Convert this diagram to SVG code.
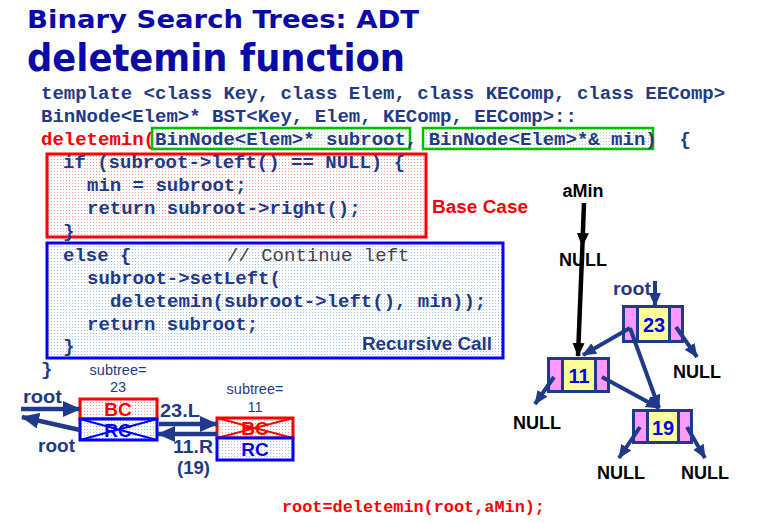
<svg xmlns="http://www.w3.org/2000/svg" width="770" height="524" viewBox="0 0 770 524">
  <style>
    .title { font-family: "DejaVu Sans", Verdana, sans-serif; font-weight: bold; fill: #0a0aa8; }
    .code { font-family: "Liberation Mono", "Courier New", monospace; font-weight: bold; font-size: 19px; fill: #1f3a8a; }
    .cmt { font-weight: normal; fill: #444; }
    .red { fill: #ff0000; }
    .lbl { font-family: "Liberation Sans", Arial, sans-serif; font-weight: bold; }
    .small { font-family: "Liberation Sans", Arial, sans-serif; font-size: 14.5px; fill: #1f3a8a; text-anchor: middle; }
    .null { font-family: "Liberation Sans", Arial, sans-serif; font-weight: bold; font-size: 18px; fill: #000; text-anchor: middle; }
    .num { font-family: "Liberation Sans", Arial, sans-serif; font-weight: bold; font-size: 20px; fill: #0000ff; text-anchor: middle; }
    .cell { font-family: "Liberation Sans", Arial, sans-serif; font-weight: bold; font-size: 19px; text-anchor: middle; }
    .frame { fill: #1f3a8a; }
    .pink { fill: #ff99ff; }
    .yellow { fill: #ffff99; }
    .edge { stroke: #1f3a8a; stroke-width: 4; fill: none; marker-end: url(#ahNavy); }
    .bigedge { stroke: #1f3a8a; stroke-width: 4.5; fill: none; marker-end: url(#ahBig); }
  </style>
  <defs>
    <pattern id="dotRed" width="3" height="3" patternUnits="userSpaceOnUse">
      <rect width="3" height="3" fill="#ffffff"/>
      <rect width="1" height="1" fill="#f59a9a"/>
    </pattern>
    <pattern id="dotBlue" width="3" height="3" patternUnits="userSpaceOnUse">
      <rect width="3" height="3" fill="#ffffff"/>
      <rect width="1" height="1" fill="#9ec0ee"/>
    </pattern>
    <pattern id="dotGreen" width="3" height="3" patternUnits="userSpaceOnUse">
      <rect width="3" height="3" fill="#ffffff"/>
      <rect width="1" height="1" fill="#a8dca8"/>
    </pattern>
    <marker id="ahNavy" markerUnits="userSpaceOnUse" markerWidth="14" markerHeight="14" viewBox="0 0 14 14" refX="13" refY="7" orient="auto">
      <path d="M0,1 L14,7 L0,13 z" fill="#1f3a8a"/>
    </marker>
    <marker id="ahBig" markerUnits="userSpaceOnUse" markerWidth="18" markerHeight="16" viewBox="0 0 18 16" refX="17" refY="8" orient="auto">
      <path d="M0,0 L18,8 L0,16 z" fill="#1f3a8a"/>
    </marker>
    <marker id="ahBlack" markerUnits="userSpaceOnUse" markerWidth="14" markerHeight="14" viewBox="0 0 14 14" refX="13" refY="7" orient="auto">
      <path d="M0,1 L14,7 L0,13 z" fill="#000"/>
    </marker>
  </defs>

  <rect width="770" height="524" fill="#ffffff"/>

  <!-- heading -->
  <text class="title" x="27" y="28" font-size="25" textLength="392" lengthAdjust="spacingAndGlyphs">Binary Search Trees: ADT</text>
  <text class="title" x="27" y="71" font-size="37" textLength="378" lengthAdjust="spacingAndGlyphs">deletemin function</text>

  <!-- code boxes -->
  <g id="param-boxes">
    <rect x="152" y="128" width="258" height="21" fill="url(#dotGreen)" stroke="#00c000" stroke-width="2.5"/>
    <rect x="423" y="128" width="230" height="21" fill="url(#dotGreen)" stroke="#00c000" stroke-width="2.5"/>
  </g>
  <g id="base-case">
    <rect x="47" y="154" width="379" height="83" fill="url(#dotRed)" stroke="#ff0000" stroke-width="3"/>
    <text class="lbl red" x="432" y="213" font-size="18" textLength="96" lengthAdjust="spacingAndGlyphs">Base Case</text>
  </g>
  <g id="recursive-call">
    <rect x="47" y="243" width="456" height="115" fill="url(#dotBlue)" stroke="#0000ff" stroke-width="3"/>
    <text class="lbl" x="362" y="350" font-size="18" fill="#1f3a8a" textLength="130" lengthAdjust="spacingAndGlyphs">Recursive Call</text>
  </g>

  <!-- code listing -->
  <g id="code">
    <text class="code" x="41" y="99">template &lt;class Key, class Elem, class KEComp, class EEComp&gt;</text>
    <text class="code" x="41" y="122">BinNode&lt;Elem&gt;* BST&lt;Key, Elem, KEComp, EEComp&gt;::</text>
    <text class="code" x="41" y="145" xml:space="preserve"><tspan class="red">deletemin(</tspan>BinNode&lt;Elem&gt;* subroot, BinNode&lt;Elem&gt;*&amp; min)  {</text>
    <text class="code" x="63" y="168">if (subroot-&gt;left() == NULL) {</text>
    <text class="code" x="87" y="191">min = subroot;</text>
    <text class="code" x="87" y="214">return subroot-&gt;right();</text>
    <text class="code" x="63" y="237">}</text>
    <text class="code" x="63" y="261">else {<tspan class="cmt" x="227">// Continue left</tspan></text>
    <text class="code" x="87" y="284">subroot-&gt;setLeft(</text>
    <text class="code" x="110" y="307">deletemin(subroot-&gt;left(), min));</text>
    <text class="code" x="87" y="330">return subroot;</text>
    <text class="code" x="63" y="352">}</text>
    <text class="code" x="41" y="375">}</text>
  </g>

  <!-- call trace boxes -->
  <g id="frame-23">
    <text class="small" x="118" y="375">subtree=</text>
    <text class="small" x="118" y="392">23</text>
    <rect x="80" y="399" width="77" height="20" fill="url(#dotRed)" stroke="#ff0000" stroke-width="3"/>
    <text class="cell" x="118" y="416" fill="#ff0000">BC</text>
    <rect x="80" y="419" width="77" height="21" fill="url(#dotBlue)" stroke="#0000ff" stroke-width="3"/>
    <text class="cell" x="118" y="437" fill="#0000ff">RC</text>
    <path d="M80,419 L157,440 M80,440 L157,419" stroke="#0000ff" stroke-width="2"/>
  </g>
  <g id="frame-11">
    <text class="small" x="255" y="394">subtree=</text>
    <text class="small" x="255" y="412">11</text>
    <rect x="217" y="418" width="76" height="20" fill="url(#dotRed)" stroke="#ff0000" stroke-width="3"/>
    <text class="cell" x="255" y="435" fill="#ff0000">BC</text>
    <path d="M217,418 L293,438 M217,438 L293,418" stroke="#ff0000" stroke-width="2"/>
    <rect x="217" y="438" width="76" height="22" fill="url(#dotBlue)" stroke="#0000ff" stroke-width="3"/>
    <text class="cell" x="255" y="456" fill="#0000ff">RC</text>
  </g>

  <!-- tree nodes -->
  <g id="node-23" transform="translate(622,305)">
    <rect class="frame" width="62" height="38"/>
    <rect class="pink" x="3" y="3" width="11" height="32"/>
    <rect class="yellow" x="17" y="3" width="29" height="32"/>
    <rect class="pink" x="49" y="3" width="10" height="32"/>
    <text class="num" x="32" y="27">23</text>
  </g>
  <g id="node-11" transform="translate(547,357)">
    <rect class="frame" width="63" height="36"/>
    <rect class="pink" x="3" y="3" width="11" height="30"/>
    <rect class="yellow" x="17" y="3" width="30" height="30"/>
    <rect class="pink" x="50" y="3" width="10" height="30"/>
    <text class="num" x="32" y="26">11</text>
  </g>
  <g id="node-19" transform="translate(632,409)">
    <rect class="frame" width="61" height="35"/>
    <rect class="pink" x="3" y="3" width="11" height="29"/>
    <rect class="yellow" x="17" y="3" width="28" height="29"/>
    <rect class="pink" x="48" y="3" width="10" height="29"/>
    <text class="num" x="31" y="26">19</text>
  </g>

  <!-- tree labels -->
  <g id="tree-labels">
    <text class="null" x="583" y="197">aMin</text>
    <text class="null" x="583" y="266">NULL</text>
    <text class="lbl" x="613" y="295" font-size="18" fill="#1f3a8a" textLength="38" lengthAdjust="spacingAndGlyphs">root</text>
    <text class="null" x="697" y="378">NULL</text>
    <text class="null" x="537" y="429">NULL</text>
    <text class="null" x="621" y="479">NULL</text>
    <text class="null" x="705" y="479">NULL</text>
  </g>

  <!-- trace labels -->
  <g id="trace-labels" class="lbl" fill="#1f3a8a" font-size="18">
    <text x="23" y="403" textLength="39" lengthAdjust="spacingAndGlyphs">root</text>
    <text x="38" y="452" textLength="37" lengthAdjust="spacingAndGlyphs">root</text>
    <text x="160" y="417" textLength="40" lengthAdjust="spacingAndGlyphs">23.L</text>
    <text x="173" y="453" textLength="40" lengthAdjust="spacingAndGlyphs">11.R</text>
    <text x="177" y="474" textLength="33" lengthAdjust="spacingAndGlyphs">(19)</text>
  </g>

  <!-- connectors -->
  <g id="connectors">
    <polyline points="584,203 582.4,246 578,356" stroke="#000" stroke-width="4.5" fill="none" marker-mid="url(#ahBlack)" marker-end="url(#ahBlack)"/>
    <line class="edge" x1="655" y1="281" x2="655" y2="306"/>
    <line class="edge" x1="630" y1="328" x2="583" y2="355"/>
    <line class="edge" x1="630" y1="328" x2="659" y2="408"/>
    <line class="edge" x1="676" y1="327" x2="697" y2="357"/>
    <line class="edge" x1="554" y1="377" x2="535" y2="404"/>
    <line class="edge" x1="602" y1="377" x2="659" y2="408"/>
    <line class="edge" x1="640" y1="427" x2="619" y2="458"/>
    <line class="edge" x1="687" y1="427" x2="705" y2="458"/>
    <line class="bigedge" x1="21" y1="409" x2="80" y2="409"/>
    <line class="bigedge" x1="80" y1="430" x2="22" y2="417"/>
    <line class="bigedge" x1="159" y1="424" x2="217" y2="424"/>
    <line class="bigedge" x1="217" y1="434" x2="158" y2="434"/>
  </g>

  <!-- call statement -->
  <text class="code red" x="282" y="512" style="font-size:16.5px" textLength="263" lengthAdjust="spacingAndGlyphs">root=deletemin(root,aMin);</text>
</svg>
